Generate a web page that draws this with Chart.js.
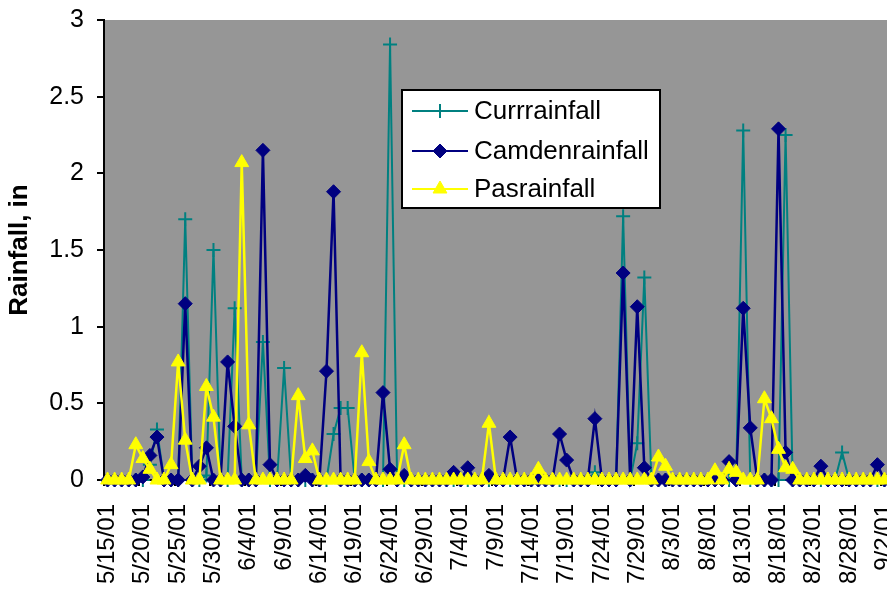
<!DOCTYPE html>
<html>
<head>
<meta charset="utf-8">
<script src="https://cdn.jsdelivr.net/npm/chart.js@4/dist/chart.umd.min.js"></script>
<style>
html,body{margin:0;padding:0;background:#fff;overflow:hidden;}
#wrap{width:887px;height:589px;overflow:hidden;position:relative;}
canvas{display:block;}
</style>
</head>
<body>
<div id="wrap"><canvas id="c" width="897" height="589"></canvas></div>
<script>
const categories = [
"5/15/01","5/16/01","5/17/01","5/18/01","5/19/01","5/20/01","5/21/01","5/22/01","5/23/01","5/24/01",
"5/25/01","5/26/01","5/27/01","5/28/01","5/29/01","5/30/01","5/31/01","6/1/01","6/2/01","6/3/01",
"6/4/01","6/5/01","6/6/01","6/7/01","6/8/01","6/9/01","6/10/01","6/11/01","6/12/01","6/13/01",
"6/14/01","6/15/01","6/16/01","6/17/01","6/18/01","6/19/01","6/20/01","6/21/01","6/22/01","6/23/01",
"6/24/01","6/25/01","6/26/01","6/27/01","6/28/01","6/29/01","6/30/01","7/1/01","7/2/01","7/3/01",
"7/4/01","7/5/01","7/6/01","7/7/01","7/8/01","7/9/01","7/10/01","7/11/01","7/12/01","7/13/01",
"7/14/01","7/15/01","7/16/01","7/17/01","7/18/01","7/19/01","7/20/01","7/21/01","7/22/01","7/23/01",
"7/24/01","7/25/01","7/26/01","7/27/01","7/28/01","7/29/01","7/30/01","7/31/01","8/1/01","8/2/01",
"8/3/01","8/4/01","8/5/01","8/6/01","8/7/01","8/8/01","8/9/01","8/10/01","8/11/01","8/12/01",
"8/13/01","8/14/01","8/15/01","8/16/01","8/17/01","8/18/01","8/19/01","8/20/01","8/21/01","8/22/01",
"8/23/01","8/24/01","8/25/01","8/26/01","8/27/01","8/28/01","8/29/01","8/30/01","8/31/01","9/1/01",
"9/2/01"];

const currRainfall = [
0,0,0,0,0,0,0.1,0.33,0,0,
0,1.70,0,0,0.03,1.50,0,0,1.12,0,
0,0,0.90,0,0,0.73,0,0,0,0,
0,0,0.30,0.47,0.47,0,0,0,0,0,
2.84,0,0,0,0,0,0,0,0,0,
0,0,0,0,0,0,0,0,0,0,
0,0,0,0,0,0,0,0,0,0.05,
0,0,0,1.72,0,0.24,1.32,0,0,0,
0,0,0,0,0,0,0,0,0,0,
2.28,0,0,0,0,0,2.25,0,0,0,
0,0,0,0,0.18,0,0,0,0,0,
0];

const camdenRainfall = [
0,0,0,0,0,0.02,0.16,0.28,0,0,
0,1.15,0,0.09,0.21,0,0,0.77,0.35,0,
0,0,2.15,0.1,0,0,0,0,0.03,0,
0,0.71,1.88,0,0,0,0,0,0,0.57,
0.07,0,0.03,0,0,0,0,0,0,0.05,
0,0.08,0,0,0.03,0,0,0.28,0,0,
0,0,0,0,0.30,0.13,0,0,0,0.40,
0,0,0,1.35,0,1.13,0.08,0,0,0,
0,0,0,0,0,0,0,0,0.12,0,
1.12,0.34,0,0,0,2.29,0.18,0,0,0,
0,0.09,0,0,0,0,0,0,0,0.10,
0];

const pasRainfall = [
0,0,0,0,0.23,0.14,0.07,0,0,0.1,
0.77,0.26,0,0,0.61,0.41,0,0,0,2.07,
0.36,0,0,0,0,0,0,0.55,0.14,0.19,
0,0,0,0,0,0,0.83,0.12,0,0,
0,0,0.23,0,0,0,0,0,0,0,
0,0,0,0,0.37,0,0,0,0,0,
0,0.07,0,0,0,0,0,0,0,0,
0,0,0,0,0,0,0,0,0.15,0.09,
0,0,0,0,0,0,0.06,0,0.07,0.05,
0,0,0,0.53,0.40,0.20,0.08,0.07,0,0,
0,0,0,0,0,0,0,0,0,0,
0];

const seriesNames = ["Currrainfall","Camdenrainfall","Pasrainfall"];
const yTicks = [0,0.5,1,1.5,2,2.5,3];

const FONT = "'Liberation Sans', Arial, sans-serif";
const TEAL = "#008080", NAVY = "#000080", YELLOW = "#FFFF00", PLOT_BG = "#969696";

const plotBg = {
  id: "plotBg",
  beforeDraw(chart) {
    const a = chart.chartArea, ctx = chart.ctx;
    ctx.save();
    ctx.fillStyle = PLOT_BG;
    ctx.fillRect(a.left, a.top, a.right - a.left, a.bottom - a.top);
    ctx.restore();
  }
};

const boxLegend = {
  id: "boxLegend",
  afterDraw(chart) {
    const ctx = chart.ctx;
    const bx = 402, by = 90, bw = 258, bh = 118;
    ctx.save();
    ctx.fillStyle = "#fff";
    ctx.fillRect(bx, by, bw, bh);
    ctx.strokeStyle = "#000";
    ctx.lineWidth = 2;
    ctx.strokeRect(bx, by, bw, bh);
    const rows = [111, 151, 189];
    chart.data.datasets.forEach((ds, i) => {
      const y = rows[i];
      ctx.strokeStyle = ds.borderColor;
      ctx.lineWidth = 2;
      ctx.beginPath();
      ctx.moveTo(412, y);
      ctx.lineTo(468, y);
      ctx.stroke();
      ctx.fillStyle = ds.pointBackgroundColor;
      ctx.strokeStyle = ds.pointBorderColor;
      ctx.lineWidth = ds.pointBorderWidth;
      Chart.helpers.drawPoint(ctx, {pointStyle: ds.pointStyle, radius: ds.pointRadius, rotation: 0, borderWidth: ds.pointBorderWidth}, 440, y);
      ctx.fillStyle = "#000";
      ctx.font = "26px " + FONT;
      ctx.textAlign = "left";
      ctx.textBaseline = "middle";
      ctx.fillText(ds.label, 474, y + 1);
    });
    ctx.restore();
  }
};

new Chart(document.getElementById("c"), {
  type: "line",
  data: {
    labels: categories,
    datasets: [
      {label: seriesNames[0], data: currRainfall, borderColor: TEAL, backgroundColor: TEAL,
       borderWidth: 2, pointStyle: "cross", pointRadius: 7, pointBorderWidth: 2,
       pointBorderColor: TEAL, pointBackgroundColor: TEAL, tension: 0, clip: false, order: 2},
      {label: seriesNames[1], data: camdenRainfall, borderColor: NAVY, backgroundColor: NAVY,
       borderWidth: 2.5, pointStyle: "rectRot", pointRadius: 7, pointBorderWidth: 1,
       pointBorderColor: NAVY, pointBackgroundColor: NAVY, tension: 0, clip: false, order: 1},
      {label: seriesNames[2], data: pasRainfall, borderColor: YELLOW, backgroundColor: YELLOW,
       borderWidth: 2.5, pointStyle: "triangle", pointRadius: 8, pointBorderWidth: 1,
       pointBorderColor: YELLOW, pointBackgroundColor: YELLOW, tension: 0, clip: false, order: 0}
    ]
  },
  options: {
    responsive: false,
    animation: false,
    devicePixelRatio: 1,
    layout: {padding: {top: 20, left: 0, right: 0, bottom: 0}},
    plugins: {legend: {display: false}, tooltip: {enabled: false}},
    elements: {point: {hoverRadius: 7}},
    scales: {
      x: {
        type: "category",
        offset: true,
        grid: {
          offset: true, drawOnChartArea: false, drawTicks: true, tickLength: 6, lineWidth: 2,
          color: (c) => (c.index % 5 === 0 ? "#000" : "rgba(0,0,0,0)")
        },
        border: {display: true, color: "#000", width: 2},
        ticks: {
          autoSkip: false, maxRotation: 90, minRotation: 90, padding: 18, color: "#000",
          font: {family: FONT, size: 24},
          callback: function(v, i) { return i % 5 === 0 ? this.getLabelForValue(v) : ""; }
        },
        afterFit(s) { s.height = 109; s.paddingLeft = 0; s.paddingRight = 0; }
      },
      y: {
        min: 0, max: 3,
        afterBuildTicks(s) { s.ticks = yTicks.map(v => ({value: v})); },
        grid: {drawOnChartArea: false, drawTicks: true, tickLength: 7, lineWidth: 2, color: "#000"},
        border: {display: true, color: "#000", width: 2},
        ticks: {color: "#000", padding: 13, font: {family: FONT, size: 25},
                callback: (v) => String(v)},
        title: {display: true, text: "Rainfall, in", color: "#000",
                font: {family: FONT, size: 26, weight: "bold"}, padding: {top: 4, bottom: 0}},
        afterFit(s) { s.width = 104; s.paddingTop = 0; s.paddingBottom = 0; }
      }
    }
  },
  plugins: [plotBg, boxLegend]
});
</script>
</body>
</html>
